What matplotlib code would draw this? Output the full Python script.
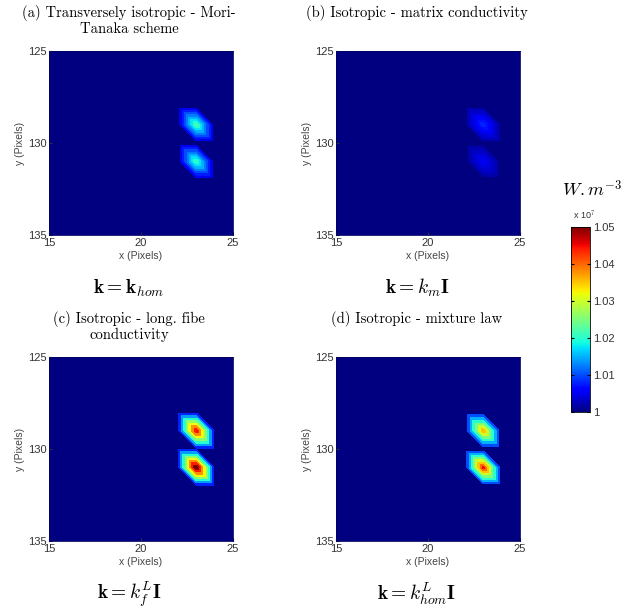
import numpy as np
import matplotlib
matplotlib.use("Agg")
import matplotlib.pyplot as plt
import matplotlib.tri as mtri
from matplotlib import ticker, colors

plt.rcParams['mathtext.fontset'] = 'cm'

# grid of pixels (values in units of 1e7 W.m^-3)
x_pix = np.arange(15, 26)
y_pix = np.arange(125, 136)
background = 1.0

# two hot pixels (x, y)
hot_x = [23, 23]
hot_y = [129, 131]

# peak values for each case : upper spot, lower spot
peaks_a = [1.021, 1.020]   # transversely isotropic
peaks_b = [1.008, 1.005]   # matrix conductivity
peaks_c = [1.043, 1.050]   # long. fibre conductivity
peaks_d = [1.034, 1.042]   # mixture law

titles = ["(a) Transversely isotropic - Mori-\nTanaka scheme",
          "(b) Isotropic - matrix conductivity",
          "(c) Isotropic - long. fibe\nconductivity",
          "(d) Isotropic - mixture law"]
formulas = [r"$\mathbf{k} = \mathbf{k}_{hom}$",
            r"$\mathbf{k} = k_m\mathbf{I}$",
            r"$\mathbf{k} = k_f^L\mathbf{I}$",
            r"$\mathbf{k} = k^L_{hom}\mathbf{I}$"]

cbar_ticks = [1.0, 1.01, 1.02, 1.03, 1.04, 1.05]
vmin, vmax = 1.0, 1.05

# triangulated grid (diagonal from (x,y) to (x+1,y+1))
X, Y = np.meshgrid(x_pix, y_pix)
nx = len(x_pix)
tris = []
for j in range(len(y_pix) - 1):
    for i in range(nx - 1):
        k = j * nx + i
        tris.append([k, k + 1, k + nx + 1])
        tris.append([k, k + nx + 1, k + nx])
tri = mtri.Triangulation(X.ravel(), Y.ravel(), np.array(tris))

cmap = plt.get_cmap('jet')
norm = colors.Normalize(vmin=vmin, vmax=vmax)


def make_field(peaks):
    Z = np.full(X.shape, background)
    for px, py, v in zip(hot_x, hot_y, peaks):
        Z[py - y_pix[0], px - x_pix[0]] = v
    return Z.ravel()


fig = plt.figure(figsize=(6.28, 6.11), dpi=100)

W, H = 628, 611
ax_w, ax_h = 184, 184
positions = [(49, 51), (336, 51), (49, 357), (336, 357)]
centers_x = [129, 417, 129, 417]
formula_y = [288, 288, 594, 594]

for n, peaks in enumerate([peaks_a, peaks_b, peaks_c, peaks_d]):
    left, top = positions[n]
    ax = fig.add_axes([left / W, 1 - (top + ax_h) / H, ax_w / W, ax_h / H])
    Z = make_field(peaks)
    lv = ticker.MaxNLocator(nbins=10).tick_values(Z.min(), Z.max())
    band_cols = [cmap(norm(lv[0]))] + [cmap(norm(l)) for l in lv[2:]]
    ax.tricontourf(tri, Z, levels=lv, colors=band_cols)
    ax.set_xlim(15, 25)
    ax.set_ylim(135, 125)
    ax.set_xticks([15, 20, 25])
    ax.set_yticks([125, 130, 135])
    ax.tick_params(direction='in', length=2, labelsize=8, labelcolor='#333333',
                   color='#333333', pad=2)
    for lab in ax.get_xticklabels() + ax.get_yticklabels():
        lab.set_family('Liberation Sans')
    ax.set_xlabel("x (Pixels)", fontsize=7.5, color='#444444', labelpad=2,
                  family='Liberation Sans')
    ax.set_ylabel("y (Pixels)", fontsize=7.5, color='#444444', labelpad=2,
                  family='Liberation Sans')
    for s in ax.spines.values():
        s.set_linewidth(0.6)
        s.set_color('#000060')
    # titles and formulas centered on each sub-figure
    ttop = top - 46
    fig.text(centers_x[n] / W, 1 - ttop / H, titles[n], ha='center', va='top',
             fontsize=10.5, family='cmr10', linespacing=1.1)
    fig.text(centers_x[n] / W, 1 - formula_y[n] / H, formulas[n], ha='center',
             va='center', fontsize=14)

# colorbar
cax = fig.add_axes([571 / W, 1 - 412 / H, 19 / W, 185 / H])
sm = plt.cm.ScalarMappable(norm=norm, cmap=cmap)
cb = fig.colorbar(sm, cax=cax, ticks=cbar_ticks)
cb.ax.set_yticklabels(["1", "1.01", "1.02", "1.03", "1.04", "1.05"])
cb.ax.tick_params(direction='in', length=2, labelsize=8, labelcolor='#333333',
                  left=True, right=True, pad=2)
for lab in cb.ax.get_yticklabels():
    lab.set_family('Liberation Sans')
cb.outline.set_linewidth(0.6)
fig.text(573 / W, 1 - 222 / H, r"x 10$^7$", fontsize=6.5, color='#333333',
         family='Liberation Sans', va='bottom')
fig.text(592 / W, 1 - 190 / H, r"$W.m^{-3}$", fontsize=13, ha='center', va='center')

plt.savefig("out.png", dpi=100)
